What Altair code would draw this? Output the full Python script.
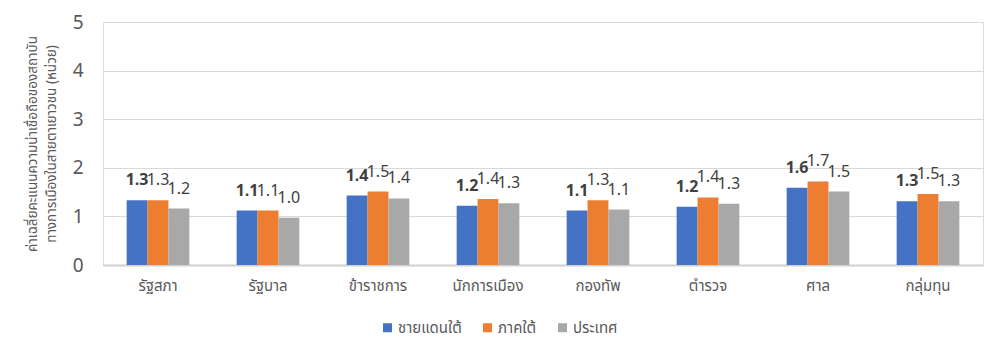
import altair as alt
import pandas as pd

categories = ["รัฐสภา", "รัฐบาล", "ข้าราชการ", "นักการเมือง", "กองทัพ", "ตำรวจ", "ศาล", "กลุ่มทุน"]
series = ["ชายแดนใต้", "ภาคใต้", "ประเทศ"]
border_south = [1.33, 1.12, 1.43, 1.22, 1.12, 1.20, 1.59, 1.31]
south = [1.33, 1.12, 1.51, 1.36, 1.33, 1.39, 1.72, 1.46]
nation = [1.16, 0.97, 1.37, 1.27, 1.14, 1.26, 1.51, 1.31]
colors = ["#4472C4", "#ED7D31", "#A8A8A8"]
y_ticks = [0, 1, 2, 3, 4, 5]
y_title = ["ค่าเฉลี่ยคะแนนความน่าเชื่อถือของสถาบัน", "ทางการเมืองในสายตาเยาวชน (หน่วย)"]

rows = []
for s, vals in zip(series, [border_south, south, nation]):
    for c, v in zip(categories, vals):
        rows.append({"cat": c, "series": s, "value": v})
df = pd.DataFrame(rows)

FONT = "Noto Sans Thai, Noto Sans, sans-serif"

x_enc = alt.X(
    "cat:N",
    sort=categories,
    scale=alt.Scale(paddingInner=0.43, paddingOuter=0.215),
    axis=alt.Axis(
        title=None, labelAngle=0, labelFontSize=15, labelColor="#595959",
        labelPadding=13, ticks=False, domainColor="#d0d0d0", domainWidth=2,
        grid=False, labelFont=FONT,
    ),
)
y_enc = alt.Y(
    "value:Q",
    scale=alt.Scale(domain=[0, 5], nice=False),
    axis=alt.Axis(
        values=y_ticks, format="d", title=y_title, labelFontSize=19,
        labelColor="#595959", labelPadding=20, ticks=False, domain=False,
        gridColor="#d9d9d9", gridWidth=1, titleFontSize=13.5,
        titleColor="#595959", titleFontWeight="normal", titleX=-78,
        titleY=121.5, titleAngle=-90, titleBaseline="top", titleAlign="center",
        titleLineHeight=19, titleFont=FONT, labelFont=FONT,
    ),
)
xoff = alt.XOffset("series:N", sort=series, scale=alt.Scale(paddingInner=0, paddingOuter=0))

base = alt.Chart(df).encode(x=x_enc, xOffset=xoff, y=y_enc)

bars = base.mark_bar().encode(
    color=alt.Color(
        "series:N", sort=series,
        scale=alt.Scale(domain=series, range=colors),
        legend=alt.Legend(
            title=None, orient="none", legendX=277, legendY=298,
            direction="horizontal", symbolType="square", symbolSize=81,
            symbolStrokeWidth=0, labelFontSize=15, labelColor="#595959",
            columnPadding=18, labelOffset=3, labelFont=FONT,
        ),
    )
)

labels_bold = base.transform_filter(alt.datum.series == series[0]).mark_text(
    dy=-15, baseline="alphabetic", fontSize=16, fontWeight="bold",
    color="#404040", font=FONT,
).encode(text=alt.Text("value:Q", format=".1f"))

labels_norm = base.transform_filter(alt.datum.series != series[0]).mark_text(
    dy=-15, baseline="alphabetic", fontSize=16, color="#404040", font=FONT,
).encode(text=alt.Text("value:Q", format=".1f"))

chart = (
    alt.layer(bars, labels_bold, labels_norm)
    .properties(
        width=880, height=243,
        autosize=alt.AutoSizeParams(type="none"),
        padding={"left": 95, "top": 14, "right": 14, "bottom": 86},
    )
    .configure_view(stroke=None)
    .configure(font=FONT)
)

chart.save("out.html", embed_options={"renderer": "svg", "actions": False})
